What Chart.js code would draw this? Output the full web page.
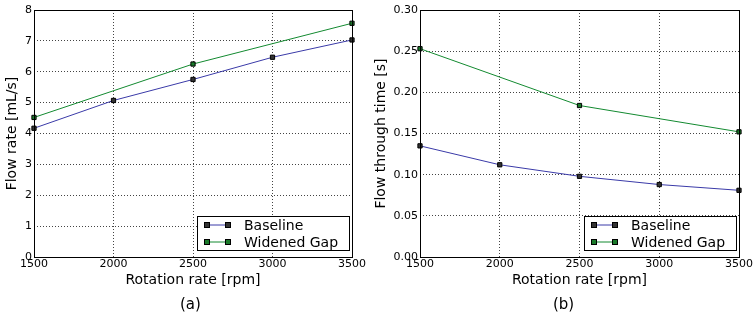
<!DOCTYPE html>
<html>
<head>
<meta charset="utf-8">
<script src="https://cdn.jsdelivr.net/npm/chart.js@4"></script>
<style>
  body { margin: 0; background: #fff; width: 754px; height: 327px; position: relative; overflow: hidden; }
  .panel { position: absolute; top: 0; height: 327px; }
  .caption { position: absolute; top: 295px; font: 15px "DejaVu Sans", sans-serif; color: #000; }
</style>
</head>
<body>
<div class="panel" style="left:0;width:377px"><canvas id="flowRateChart" width="377" height="327"></canvas></div>
<div class="panel" style="left:369px;width:385px"><canvas id="flowTimeChart" width="385" height="327"></canvas></div>
<div class="caption" style="left:180px">(a)</div>
<div class="caption" style="left:553px">(b)</div>
<script>
const rpmBaseline = [1500, 2000, 2500, 3000, 3500];
const rpmWidened = [1500, 2500, 3500];

const flowRateBaseline = [4.17, 5.07, 5.75, 6.47, 7.03];
const flowRateWidened = [4.52, 6.25, 7.57];

const flowTimeBaseline = [0.135, 0.112, 0.098, 0.088, 0.081];
const flowTimeWidened = [0.253, 0.184, 0.152];

const xTicks = [1500, 2000, 2500, 3000, 3500];
const flowRateTicks = [0, 1, 2, 3, 4, 5, 6, 7, 8];
const flowTimeTicks = [0, 0.05, 0.10, 0.15, 0.20, 0.25, 0.30];

const FONT = '"DejaVu Sans", sans-serif';
const BLUE = '#3a3aa8';
const GREEN = '#138a30';

function toPoints(xs, ys) {
    return xs.map((x, i) => ({ x: x, y: ys[i] }));
}

// full box around the plot area, like matplotlib's spines
const framePlugin = {
    id: 'frame',
    afterDraw(chart) {
        const a = chart.chartArea;
        const ctx = chart.ctx;
        ctx.save();
        ctx.strokeStyle = '#000';
        ctx.lineWidth = 1;
        ctx.strokeRect(Math.round(a.left) + 0.5, Math.round(a.top) + 0.5,
            Math.round(a.right - a.left), Math.round(a.bottom - a.top));
        ctx.restore();
    }
};

// legend box inside the lower-right corner of the plot
const insideLegend = {
    id: 'insideLegend',
    afterDraw(chart) {
        const a = chart.chartArea;
        const ctx = chart.ctx;
        const w = 152, h = 34;
        const x0 = a.right - w - 3, y0 = a.bottom - h - 7;
        ctx.save();
        ctx.fillStyle = '#fff';
        ctx.fillRect(x0, y0, w, h);
        ctx.strokeStyle = '#000';
        ctx.lineWidth = 1;
        ctx.strokeRect(Math.round(x0) + 0.5, Math.round(y0) + 0.5, w, h);
        ctx.font = '14px ' + FONT;
        ctx.textBaseline = 'middle';
        chart.data.datasets.forEach((ds, i) => {
            const cy = y0 + 9 + i * 17;
            const lx = x0 + 10;
            ctx.strokeStyle = ds.borderColor;
            ctx.beginPath();
            ctx.moveTo(lx, cy);
            ctx.lineTo(lx + 21, cy);
            ctx.stroke();
            [lx, lx + 21].forEach(mx => {
                ctx.fillStyle = ds.pointBackgroundColor;
                ctx.fillRect(mx - 2.5, cy - 2.5, 5, 5);
                ctx.strokeStyle = '#000';
                ctx.strokeRect(mx - 2.5, cy - 2.5, 5, 5);
            });
            ctx.fillStyle = '#000';
            ctx.fillText(ds.label, x0 + 47, cy + 1);
        });
        ctx.restore();
    }
};

function makeChart(canvasId, yTitle, baseline, widened, yTicks, yMax, decimals, yWidth, padRight) {
    const ctx = document.getElementById(canvasId).getContext('2d');
    const gridOpts = { color: '#444', lineWidth: 1, drawTicks: false };
    const borderOpts = { display: false, dash: [1, 2] };
    return new Chart(ctx, {
        type: 'line',
        data: {
            datasets: [
                {
                    label: 'Baseline',
                    data: toPoints(rpmBaseline, baseline),
                    borderColor: BLUE,
                    borderWidth: 1,
                    pointStyle: 'rect',
                    pointRadius: 3,
                    pointBackgroundColor: '#333333',
                    pointBorderColor: '#000',
                    pointBorderWidth: 1
                },
                {
                    label: 'Widened Gap',
                    data: toPoints(rpmWidened, widened),
                    borderColor: GREEN,
                    borderWidth: 1,
                    pointStyle: 'rect',
                    pointRadius: 3,
                    pointBackgroundColor: '#1a7a2a',
                    pointBorderColor: '#000',
                    pointBorderWidth: 1
                }
            ]
        },
        options: {
            responsive: false,
            animation: false,
            clip: false,
            layout: { padding: { left: 0, top: 10, right: padRight, bottom: 34 } },
            plugins: { legend: { display: false }, tooltip: { enabled: false } },
            scales: {
                x: {
                    type: 'linear',
                    min: 1500,
                    max: 3500,
                    afterBuildTicks: scale => { scale.ticks = xTicks.map(v => ({ value: v })); },
                    afterFit: scale => { scale.height = 36; },
                    grid: gridOpts,
                    border: borderOpts,
                    ticks: { color: '#000', font: { family: FONT, size: 11 }, padding: 1, maxRotation: 0, callback: v => String(v) },
                    title: { display: true, text: 'Rotation rate [rpm]', color: '#000', font: { family: FONT, size: 14 }, padding: { top: 0, bottom: 4 } }
                },
                y: {
                    min: 0,
                    max: yMax,
                    afterBuildTicks: scale => { scale.ticks = yTicks.map(v => ({ value: v })); },
                    afterFit: scale => { scale.width = yWidth; },
                    grid: gridOpts,
                    border: borderOpts,
                    ticks: {
                        color: '#000',
                        font: { family: FONT, size: 11 },
                        padding: 2,
                        callback: v => v.toFixed(decimals)
                    },
                    title: { display: true, text: yTitle, color: '#000', font: { family: FONT, size: 14 }, padding: { top: 4, bottom: 0 } }
                }
            }
        },
        plugins: [framePlugin, insideLegend]
    });
}

makeChart('flowRateChart', 'Flow rate [mL/s]', flowRateBaseline, flowRateWidened, flowRateTicks, 8, 0, 34, 25);
makeChart('flowTimeChart', 'Flow through time [s]', flowTimeBaseline, flowTimeWidened, flowTimeTicks, 0.30, 2, 51, 15);
</script>
</body>
</html>
